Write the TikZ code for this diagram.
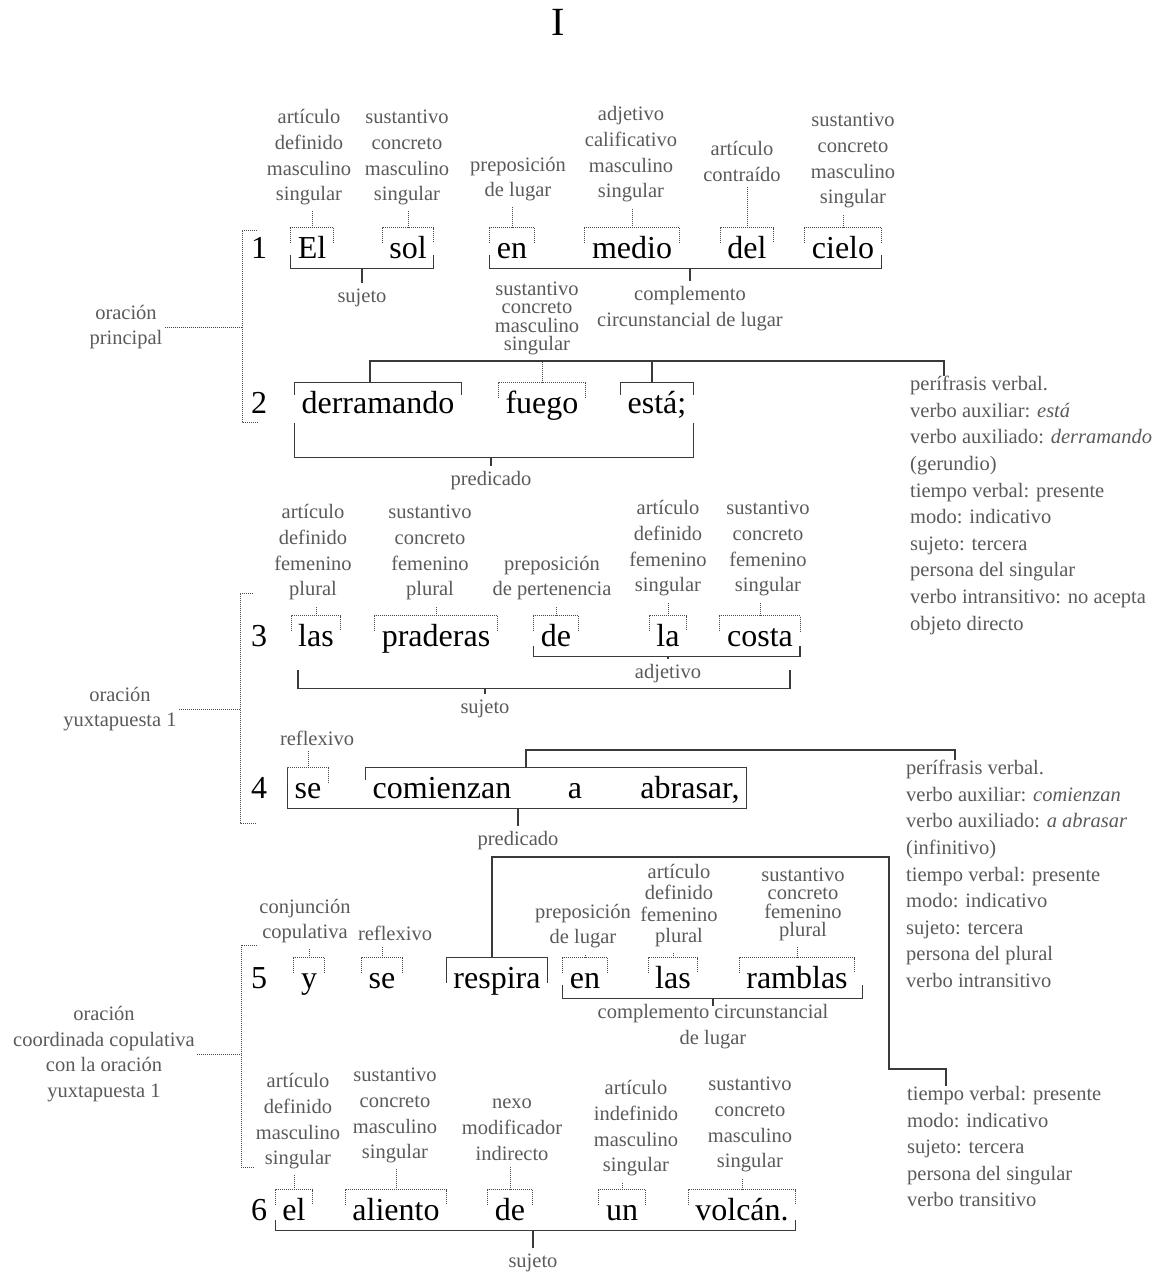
\documentclass[tikz,border=0pt]{standalone}
\usepackage{fontspec}
\setmainfont{Liberation Serif}
\definecolor{labgray}{HTML}{5A5A5A}
\definecolor{brgray}{HTML}{3A3A3A}
\definecolor{dotgray}{HTML}{4A4A4A}
\tikzset{
  word/.style={font=\fontsize{32}{32}\selectfont, anchor=base, text height=30pt, text depth=10pt, inner xsep=7pt, inner ysep=0pt},
  num/.style={font=\fontsize{32}{32}\selectfont, anchor=base, inner sep=0pt},
  lab/.style={font=\fontsize{20.5}{25.8}\selectfont, text=labgray, align=center, anchor=south, inner xsep=2pt, inner ysep=5.5pt},
  labt/.style={lab, font=\fontsize{20.5}{18.5}\selectfont},
  sub/.style={lab, anchor=north},
  note/.style={font=\fontsize{20.5}{26.6}\selectfont, text=labgray, align=left, anchor=north west, inner sep=0pt},
  lnk/.style={densely dotted, line width=1pt, draw=dotgray},
  br/.style={line width=1.2pt, draw=brgray},
}
\begin{document}
\begin{tikzpicture}[x=1pt,y=1pt]
\useasboundingbox (0,0) rectangle (1160,-1272);

\node[font=\fontsize{40}{40}\selectfont, inner sep=0pt] (title) at (558,-22) {I};

% verso 1
\node[num] (v1) at (259,-258) {1};
\node[word] (w1a) at (312,-258) {El};
\node[word] (w1b) at (408,-258) {sol};
\node[word] (w1c) at (512,-258) {en};
\node[word] (w1d) at (632,-258) {medio};
\node[word] (w1e) at (747,-258) {del};
\node[word] (w1f) at (843,-258) {cielo};
\node[lab] (l1a) at (309,-211) {artículo\\definido\\masculino\\singular};
\node[lab] (l1b) at (407,-211) {sustantivo\\concreto\\masculino\\singular};
\node[lab] (l1c) at (518,-207) {preposición\\de lugar};
\node[lab] (l1d) at (631,-208) {adjetivo\\calificativo\\masculino\\singular};
\node[lab] (l1e) at (742,-187) {artículo\\contraído};
\node[lab] (l1f) at (853,-214) {sustantivo\\concreto\\masculino\\singular};
\node[sub] (s1) at (362,-283) {sujeto};
\node[sub] (c1) at (690,-281) {complemento\\circunstancial de lugar};
\draw[br] ([yshift=13pt]w1a.south west) -- (w1a.south west) -- (w1b.south east) -- ++(0,13);
\draw[br] (s1.north) -- (s1.north |- w1a.south);
\draw[br] ([yshift=13pt]w1c.south west) -- (w1c.south west) -- (w1f.south east) -- ++(0,13);
\draw[br] (c1.north) -- (c1.north |- w1c.south);

% verso 2
\node[num] (v2) at (259,-413) {2};
\node[word] (w2a) at (378,-413) {derramando};
\node[word] (w2b) at (542,-413) {fuego};
\node[word] (w2c) at (657,-413) {está;};
\node[labt] (l2b) at (537,-361) {sustantivo\\concreto\\masculino\\singular};
\node[sub] (p2) at (491,-466) {predicado};
\node[note] (nt2) at (910,-376) {perífrasis verbal.\\verbo auxiliar: \textit{está}\\verbo auxiliado: \textit{derramando}\\(gerundio)\\tiempo verbal: presente\\modo: indicativo\\sujeto: tercera\\persona del singular\\verbo intransitivo: no acepta\\objeto directo};
\coordinate (t2) at (944,-361);
\draw[br] ([yshift=-12pt]w2a.north west) -- (w2a.north west) -- (w2a.north east) -- ++(0,-12);
\draw[br] ([yshift=-12pt]w2c.north west) -- (w2c.north west) -- (w2c.north east) -- ++(0,-12);
\draw[br] ([xshift=-8pt]w2a.north) |- (t2) -- (t2 |- nt2.north);
\draw[br] ([xshift=-5pt]w2c.north) -- ([xshift=-5pt]w2c.north |- t2);
\draw[br] (w2a.south west) -- ++(0,-34) coordinate (b2) -| (w2c.south east);
\draw[br] (p2.north) -- (p2.north |- b2);

% verso 3
\node[num] (v3) at (259,-646) {3};
\node[word] (w3a) at (316,-646) {las};
\node[word] (w3b) at (436,-646) {praderas};
\node[word] (w3c) at (556,-646) {de};
\node[word] (w3d) at (668,-646) {la};
\node[word] (w3e) at (760,-646) {costa};
\node[lab] (l3a) at (313,-606) {artículo\\definido\\femenino\\plural};
\node[lab] (l3b) at (430,-606) {sustantivo\\concreto\\femenino\\plural};
\node[lab] (l3c) at (552,-606) {preposición\\de pertenencia};
\node[lab] (l3d) at (668,-602) {artículo\\definido\\femenino\\singular};
\node[lab] (l3e) at (768,-602) {sustantivo\\concreto\\femenino\\singular};
\node[sub] (a3) at (668,-659) {adjetivo};
\node[sub] (s3) at (485,-694) {sujeto};
\draw[br] ([yshift=10pt]w3c.south west) -- (w3c.south west) -- (w3e.south east) -- ++(0,10);
\draw[br] (a3.north) -- (a3.north |- w3c.south);
\draw[br] ([xshift=7pt,yshift=-14pt]w3a.south west) -- ++(0,-18) coordinate (b3) -| ([xshift=-10pt,yshift=-14pt]w3e.south east);
\draw[br] (s3.north) -- (s3.north |- b3);

% verso 4
\node[num] (v4) at (259,-798) {4};
\node[word] (w4a) at (308,-798) {se};
\node[word] (w4b) at (442,-798) {comienzan};
\node[word] (w4c) at (575,-798) {a};
\node[word] (w4d) at (690,-798) {abrasar,};
\node[lab] (l4a) at (317,-751) {reflexivo};
\node[sub] (p4) at (518,-826) {predicado};
\node[note] (nt4) at (906,-760) {perífrasis verbal.\\verbo auxiliar: \textit{comienzan}\\verbo auxiliado: \textit{a abrasar}\\(infinitivo)\\tiempo verbal: presente\\modo: indicativo\\sujeto: tercera\\persona del plural\\verbo intransitivo};
\coordinate (t4) at (526,-750);
\draw[br] ([yshift=-12pt]w4b.north west) -- (w4b.north west) -- (w4d.north east) -- (w4d.south east) -- (w4a.south west) -- (w4a.north west);
\draw[br] (t4 |- w4b.north) -- (t4) -| ([xshift=49pt]nt4.north west);
\draw[br] (p4.north) -- (p4.north |- w4a.south);

% verso 5
\node[num] (v5) at (259,-988) {5};
\node[word] (w5a) at (309,-988) {y};
\node[word] (w5b) at (382,-988) {se};
\node[word] (w5c) at (497,-988) {respira};
\node[word] (w5d) at (585,-988) {en};
\node[word] (w5e) at (673,-988) {las};
\node[word] (w5f) at (797,-988) {ramblas};
\node[lab] (l5a) at (305,-949) {conjunción\\copulativa};
\node[lab] (l5b) at (395,-946) {reflexivo};
\node[lab] (l5d) at (583,-954) {preposición\\de lugar};
\node[lab, font=\fontsize{20.5}{21.5}\selectfont] (l5e) at (679,-953) {artículo\\definido\\femenino\\plural};
\node[labt] (l5f) at (803,-947) {sustantivo\\concreto\\femenino\\plural};
\node[sub] (c5) at (713,-999) {complemento circunstancial\\de lugar};
\node[note] (nt5) at (907,-1086) {tiempo verbal: presente\\modo: indicativo\\sujeto: tercera\\persona del singular\\verbo transitivo};
\coordinate (t5) at (889,-857);
\coordinate (k5) at (889,-1069);
\draw[br] ([yshift=-25pt]w5c.north west) -- (w5c.north west) -- (w5c.north east) -- ++(0,-25);
\draw[br] ([xshift=-5pt]w5c.north) |- (t5) -- (k5) -| ([xshift=39pt]nt5.north west);
\draw[br] ([yshift=13pt]w5d.south west) -- (w5d.south west) -- ([xshift=8pt]w5f.south east) -- ++(0,13);
\draw[br] (c5.north |- w5d.south) -- ([yshift=-7pt]c5.north);

% verso 6
\node[num] (v6) at (259,-1220) {6};
\node[word] (w6a) at (294,-1220) {el};
\node[word] (w6b) at (396,-1220) {aliento};
\node[word] (w6c) at (510,-1220) {de};
\node[word] (w6d) at (622,-1220) {un};
\node[word] (w6e) at (742,-1220) {volcán.};
\node[lab] (l6a) at (298,-1175) {artículo\\definido\\masculino\\singular};
\node[lab] (l6b) at (395,-1169) {sustantivo\\concreto\\masculino\\singular};
\node[lab] (l6c) at (512,-1166) {nexo\\modificador\\indirecto};
\node[lab] (l6d) at (636,-1182) {artículo\\indefinido\\masculino\\singular};
\node[lab] (l6e) at (750,-1178) {sustantivo\\concreto\\masculino\\singular};
\node[sub] (s6) at (533,-1248) {sujeto};
\draw[br] ([yshift=10pt]w6a.south west) -- (w6a.south west) -- (w6e.south east) -- ++(0,10);
\draw[br] (s6.north) -- (s6.north |- w6a.south);

% etiquetas punteadas
\foreach \w/\l in {w1a/l1a,w1b/l1b,w1c/l1c,w1d/l1d,w1e/l1e,w1f/l1f,w2b/l2b,w3a/l3a,w3b/l3b,w3c/l3c,w3d/l3d,w3e/l3e,w4a/l4a,w5a/l5a,w5b/l5b,w5d/l5d,w5e/l5e,w5f/l5f,w6a/l6a,w6b/l6b,w6c/l6c,w6d/l6d,w6e/l6e}
  \draw[lnk] ([yshift=-15pt]\w.north west) -- (\w.north west) -- (\w.north east) -- ++(0,-15) (\w.north) -- (\w.north |- \l.south);

% oraciones
\node[lab, anchor=center] (o1) at (126,-327) {oración\\principal};
\node[lab, anchor=center] (o2) at (120,-709) {oración\\yuxtapuesta 1};
\node[lab, anchor=center] (o3) at (104,-1054) {oración\\coordinada copulativa\\con la oración\\yuxtapuesta 1};
\coordinate (g1) at (242,-230);
\coordinate (g2) at (240,-593);
\coordinate (g3) at (241,-945);
\draw[lnk] (257,-230) -- (g1) |- (258,-422);
\draw[lnk] (253,-593) -- (g2) |- (257,-823);
\draw[lnk] (257,-945) -- (g3) |- (255,-1167);
\draw[lnk] (o1.east) -- (o1.east -| g1);
\draw[lnk] (o2.east) -- (o2.east -| g2);
\draw[lnk] (o3.east) -- (o3.east -| g3);

\end{tikzpicture}
\end{document}
